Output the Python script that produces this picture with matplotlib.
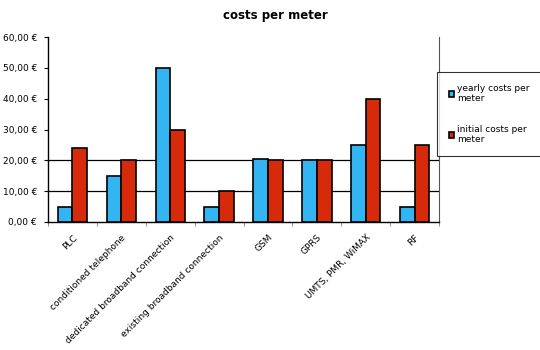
import matplotlib.pyplot as plt
import numpy as np

categories = ["PLC", "conditioned telephone", "dedicated broadband connection",
              "existing broadband connection", "GSM", "GPRS", "UMTS, PMR, WiMAX", "RF"]
yearly = [5, 15, 50, 5, 20.5, 20, 25, 5]
initial = [24, 20, 30, 10, 20, 20, 40, 25]
yticks = [0, 10, 20, 30, 40, 50, 60]
ytick_labels = ["0,00 €", "10,00 €", "20,00 €", "30,00 €", "40,00 €", "50,00 €", "60,00 €"]

fig = plt.figure(figsize=(5.4, 3.5), dpi=100)
ax = fig.add_axes([0.089, 0.366, 0.724, 0.528])

x = np.arange(len(categories))
w = 0.3
b1 = ax.bar(x - w / 2, yearly, w, color="#33b5f2", edgecolor="black", linewidth=1.2,
            label="yearly costs per\nmeter", zorder=3)
b2 = ax.bar(x + w / 2, initial, w, color="#d62a0a", edgecolor="black", linewidth=1.2,
            label="initial costs per\nmeter", zorder=3)

for g in [10, 20]:
    ax.axhline(g, color="black", linewidth=0.9, zorder=1)

ax.set_xlim(-0.5, len(categories) - 0.5)
ax.set_ylim(0, 60)
ax.set_yticks(yticks)
ax.set_yticklabels(ytick_labels, fontsize=6.5)
ax.set_xticks(x)
ax.set_xticklabels(categories, rotation=45, ha="right", rotation_mode="anchor", fontsize=6.5)
ax.tick_params(axis="x", length=0, pad=8)
ax.set_xticks(np.arange(-0.5, len(categories), 1), minor=True)
ax.tick_params(axis="x", which="minor", length=3, color="gray")
ax.tick_params(axis="y", length=3, direction="out", pad=5)

ax.spines["top"].set_visible(False)
ax.spines["right"].set_color("#555555")
for s in ["left", "bottom"]:
    ax.spines[s].set_linewidth(1.0)

fig.text(0.51, 0.955, "costs per meter", ha="center", va="center", fontsize=8.5, fontweight="bold")

leg = fig.legend(handles=[b1, b2], loc="upper left", bbox_to_anchor=(437 / 540, 1 - 72 / 350),
                 fontsize=6.5, frameon=True, fancybox=False, edgecolor="black",
                 handlelength=0.6, handleheight=0.6, handletextpad=0.3, labelspacing=2.4,
                 borderpad=1.3, borderaxespad=0)
leg.get_frame().set_linewidth(0.8)

fig.savefig("out.png", dpi=100)
